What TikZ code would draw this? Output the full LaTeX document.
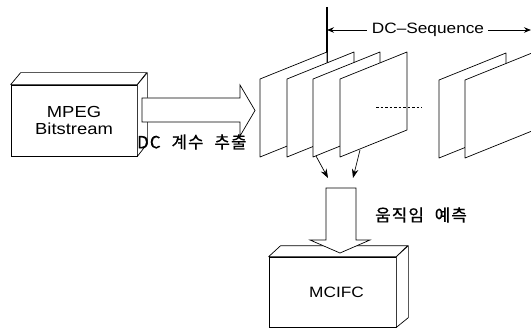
\documentclass[tikz,border=0pt]{standalone}
\usepackage{fontspec}
\usetikzlibrary{arrows.meta}
\newfontfamily\lsans[FakeStretch=1.15]{Liberation Sans}
\newfontfamily\krfont[WordSpace=2.2, LetterSpace=7, FakeBold=0.6]{Noto Sans CJK KR}
\begin{document}
\begin{tikzpicture}[x=1pt,y=-1pt,
  thin line/.style={line width=0.7pt, draw=black},
  frontbox/.style={thin line, fill=white, rectangle, inner sep=0pt, align=center},
  sidefill/.style={thin line, fill=white, line join=round},
  smallarrow/.style={thin line, -{Stealth[length=9pt,width=6.5pt]}},
  seqarrow/.style={line width=0.9pt, -{Stealth[length=7pt,width=5.5pt]}},
  krlabel/.style={font=\krfont\fontsize{16.8}{18}\selectfont, inner sep=0pt},
  seqframe/.pic={
    \draw[thin line, fill=white, line join=round] (0,0) -- (67,-27) -- (67,51) -- (0,78) -- cycle;
    \coordinate (-tl) at (0,0);
    \coordinate (-tr) at (67,-27);
    \coordinate (-br) at (67,51);
    \coordinate (-bl) at (0,78);
  }]
\useasboundingbox (0,0) rectangle (531,329);
\clip (0,0) rectangle (531,329);

% marker line at the start of the sequence
\coordinate (mtop) at (327,7);
\coordinate (mbot) at (327,63);
\draw[line width=1.1pt] (mtop) -- (mbot);

% frames of the DC sequence
\pic (f1) at (260,79) {seqframe};
\pic (f2) at (287,79) {seqframe};
\pic (f3) at (313,79) {seqframe};
\pic (f4) at (340,79) {seqframe};
\pic (f5) at (439,80) {seqframe};
\pic (f6) at (465,80) {seqframe};

% dashed continuation
\coordinate (da) at (376,107);
\coordinate (db) at (422,107);
\draw[thin line, dash pattern=on 2.5pt off 2pt] (da) -- (db);

% DC-Sequence label with arrows
\node[font=\lsans\fontsize{15}{17}\selectfont, inner sep=1pt] (seq) at (428,30) {DC–Sequence};
\coordinate (seqL) at (327,30);
\coordinate (seqR) at (531,30);
\draw[seqarrow] (seq.west) ++(-4,0) -- (seqL);
\draw[seqarrow] (seq.east) ++(3,0) -- (seqR);

% small arrows down from the frames
\coordinate (a1s) at (316,156);
\coordinate (a1e) at (328,178);
\coordinate (a2s) at (360,150);
\coordinate (a2e) at (353,178);
\draw[smallarrow] (a1s) -- (a1e);
\draw[smallarrow] (a2s) -- (a2e);

% MPEG Bitstream box
\node[frontbox, minimum width=126pt, minimum height=71pt,
      font=\lsans\fontsize{16}{17.5}\selectfont] (mpeg) at (74,120.5) {MPEG\\Bitstream};
\draw[sidefill] (mpeg.north west) -- ++(10,-12) -- ++(126,0) -- (mpeg.north east) -- cycle;
\draw[sidefill] (mpeg.north east) -- ++(10,-12) -- ++(0,71) -- (mpeg.south east) -- cycle;

% big arrow to the frames
\draw[thin line, fill=white, line join=miter]
  (142,98) -- (240,98) -- (240,85) -- (255,110.5) -- (240,136) -- (240,122) -- (142,122) -- cycle;
\node[krlabel, anchor=west] (dc) at (137,142) {DC 계수 추출};

% MCIFC box
\node[frontbox, minimum width=127pt, minimum height=70pt,
      font=\lsans\fontsize{15}{17}\selectfont] (mcifc) at (332.5,292) {\hspace*{8pt}MCIFC};
\draw[sidefill] (mcifc.north west) -- ++(12,-11) -- ++(127,0) -- (mcifc.north east) -- cycle;
\draw[sidefill] (mcifc.north east) -- ++(12,-11) -- ++(0,72) -- (mcifc.south east) -- cycle;

% big arrow down to MCIFC
\draw[thin line, fill=white, line join=miter]
  (326,188) -- (356,188) -- (356,240) -- (370,240) -- (340,253) -- (310,240) -- (326,240) -- cycle;
\node[krlabel, anchor=west] (me) at (375,215) {움직임 예측};
\end{tikzpicture}
\end{document}
